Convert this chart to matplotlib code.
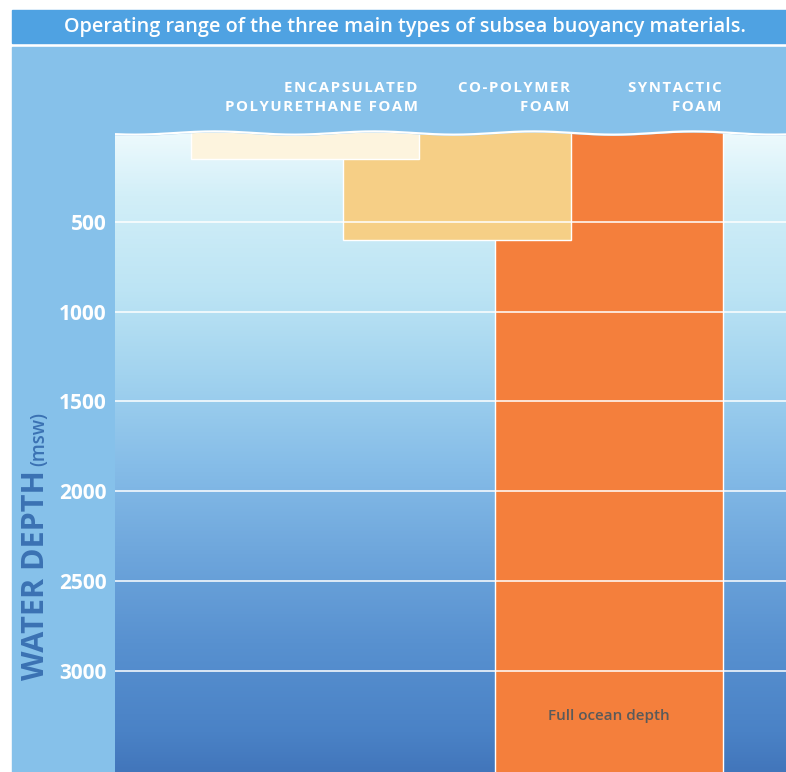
# Operating range of subsea buoyancy materials
import numpy as np
import matplotlib.pyplot as plt
from matplotlib.patches import Rectangle
from matplotlib.colors import LinearSegmentedColormap

plt.rcParams['font.family'] = ['Open Sans', 'DejaVu Sans']

# Data
materials = ['ENCAPSULATED\nPOLYURETHANE FOAM', 'CO-POLYMER\nFOAM', 'SYNTACTIC\nFOAM']
max_depth = [150, 600, 11000]   # m, syntactic = full ocean depth
bar_colors = ['#fdf4de', '#f6cf86', '#f47f3c']
depth_ticks = [500, 1000, 1500, 2000, 2500, 3000]

frame_col = '#86c1ea'
banner_col = '#4fa2e2'


def spaced(s):
    # crude letter spacing using hair spaces
    return '\n'.join('\u200a'.join(line) for line in s.split('\n'))


fig = plt.figure(figsize=(7.86, 7.72), dpi=100)
fig.patch.set_facecolor('white')

# light blue frame + title banner
fig.patches.append(Rectangle((12/786, 0), 774/786, 725/772, transform=fig.transFigure,
                             color=frame_col, zorder=-10))
fig.patches.append(Rectangle((12/786, 1 - 43/772), 774/786, 33/772, transform=fig.transFigure,
                             color=banner_col, zorder=-10))
fig.text(405/786, 1 - 27/772, 'Operating range of the three main types of subsea buoyancy materials.',
         color='white', fontsize=14.3, fontweight='semibold', ha='center', va='center')

ax = fig.add_axes([115/786, 0, 671/786, 725/772])
ax.set_xlim(0, 4.414)
ax.set_ylim(3564, -473)
ax.set_facecolor(frame_col)
for s in ax.spines.values():
    s.set_visible(False)

# water gradient
water = LinearSegmentedColormap.from_list('water', [
    (0.0, '#eefafd'), (0.1, '#d2eff8'), (0.25, '#bce4f4'), (0.38, '#a2d3ef'),
    (0.52, '#86bde8'), (0.66, '#6ea6dc'), (0.8, '#5891d0'), (0.94, '#4a82c6'),
    (1.0, '#4276bb')])
grad = np.linspace(0, 1, 256).reshape(-1, 1)
ax.imshow(grad, cmap=water, aspect='auto', extent=[0, 4.414, 3564, 0], zorder=0)

# bars (drawn deepest first so shallower ones sit on top)
centers = [1.25, 2.25, 3.25]
for i in [2, 1, 0]:
    ax.bar(centers[i], max_depth[i] + 40, bottom=-40, width=1.5, color=bar_colors[i],
           edgecolor='white', linewidth=1.0, zorder=2 + (2 - i))
    ax.text(centers[i] + 0.74, -192, spaced(materials[i]), color='white', fontsize=10.8,
            fontweight='bold', ha='right', va='center', linespacing=1.4, zorder=10)

# grid lines
for d in depth_ticks:
    ax.axhline(d, color='white', lw=1.1, zorder=5)

# sea surface wave
xw = np.linspace(0, 4.414, 500)
yw = 6 + 9 * np.sin(xw * 2 * np.pi / 1.05 + 0.8)
ax.fill_between(xw, yw, -473, color=frame_col, zorder=6)
ax.plot(xw, yw, color='white', lw=1.6, zorder=7)

ax.text(3.25, 3252, 'Full ocean depth', color='#5a5a5a', fontsize=11, fontweight='semibold',
        ha='center', va='center', zorder=8)

ax.set_yticks(depth_ticks)
ax.set_yticklabels([str(d) for d in depth_ticks])
ax.tick_params(axis='y', length=0, pad=6, labelcolor='white', labelsize=15)
for t in ax.get_yticklabels():
    t.set_fontweight('bold')
ax.set_xticks([])

# axis title
fig.text(44/786, 1 - 680/772, 'WATER DEPTH', rotation=90, rotation_mode='anchor',
         ha='left', va='baseline', color='#3b72b3', fontsize=22, fontweight='bold')
fig.text(44/786, 1 - 466/772, '(msw)', rotation=90, rotation_mode='anchor',
         ha='left', va='baseline', color='#3b72b3', fontsize=13.5, fontweight='semibold')

plt.savefig('out.png', dpi=100)
